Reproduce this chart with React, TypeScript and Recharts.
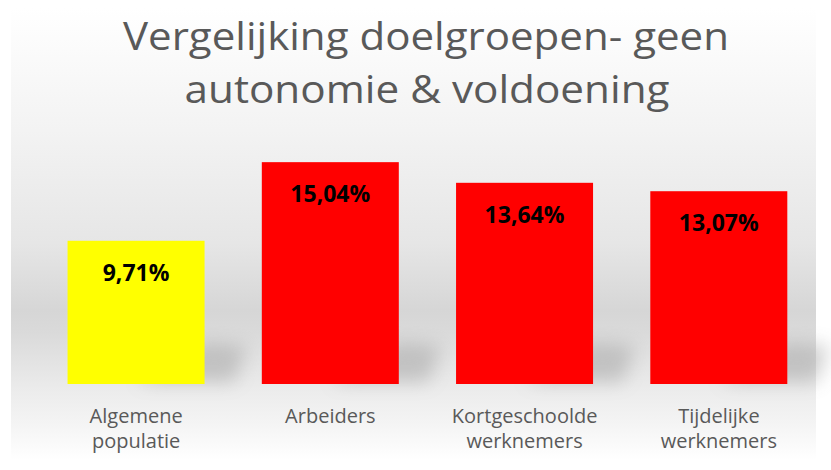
import React from 'react';
import { BarChart, Bar, XAxis, YAxis, Cell, LabelList } from 'recharts';

const categories = ['Algemene populatie', 'Arbeiders', 'Kortgeschoolde werknemers', 'Tijdelijke werknemers'];
const values = [9.71, 15.04, 13.64, 13.07];
const colors = ['#ffff00', '#ff0000', '#ff0000', '#ff0000'];
const titleLines = ['Vergelijking doelgroepen- geen', 'autonomie & voldoening'];

const data = categories.map((name, i) => ({ name, value: values[i] }));

const FONT = '"Open Sans", "DejaVu Sans", sans-serif';

// bar with a soft floor shadow to the right
function ShadowBar(props: any) {
  const { x, y, width, height, fill } = props;
  const bottom = y + height;
  const pts = [
    [x + width * 0.5, bottom - 2],
    [x + width, bottom - 42],
    [x + width + 42, bottom - 38],
    [x + width + 30, bottom - 2],
  ]
    .map((p) => p.join(','))
    .join(' ');
  return (
    <g>
      <polygon points={pts} fill="#9a9a9a" opacity={0.45} filter="url(#blurShadow)" />
      <rect x={x} y={y} width={width} height={height} fill={fill} />
    </g>
  );
}

function ValueLabel(props: any) {
  const { x, y, width, value } = props;
  const txt = Number(value).toFixed(2).replace('.', ',') + '%';
  return (
    <text
      x={x + width / 2}
      y={y + 31}
      textAnchor="middle"
      dominantBaseline="central"
      fontFamily={FONT}
      fontWeight="bold"
      fontSize={23}
      fill="#000"
    >
      {txt}
    </text>
  );
}

function CategoryTick(props: any) {
  const { x, payload } = props;
  const words = String(payload.value).split(' ');
  return (
    <g>
      {words.map((w, i) => (
        <text
          key={i}
          x={x}
          y={423 + i * 25}
          textAnchor="middle"
          fontFamily={FONT}
          fontSize={20}
          fill="#595959"
        >
          {w}
        </text>
      ))}
    </g>
  );
}

export default function App() {
  return (
    <div style={{ position: 'absolute', left: 0, top: 0, width: 831, height: 470, background: '#fff' }}>
      <div
        style={{
          position: 'absolute',
          left: 11,
          top: 8,
          width: 805,
          height: 452,
          background:
            'linear-gradient(to bottom, #ffffff 0%, #f3f3f3 27%, #e6e6e6 52%, #d6d6d6 67%, #dadada 72%, #ebebeb 84%, #f4f4f4 92%, #ffffff 100%)',
        }}
      />
      <svg width={831} height={120} style={{ position: 'absolute', left: 0, top: 0 }}>
        <text x={426} y={50} textAnchor="middle" fontFamily={FONT} fontSize={39} fill="#595959" textLength={606} lengthAdjust="spacingAndGlyphs">
          {titleLines[0]}
        </text>
        <text x={427} y={103} textAnchor="middle" fontFamily={FONT} fontSize={39} fill="#595959" textLength={485} lengthAdjust="spacingAndGlyphs">
          {titleLines[1]}
        </text>
      </svg>
      <div style={{ position: 'absolute', left: 0, top: 0 }}>
        <BarChart
          width={831}
          height={470}
          data={data}
          margin={{ top: 148, right: 15, bottom: 16, left: 39 }}
          barCategoryGap="14.7%"
        >
          <defs>
            <filter id="blurShadow" x="-50%" y="-50%" width="200%" height="200%">
              <feGaussianBlur stdDeviation="9" />
            </filter>
          </defs>
          <XAxis dataKey="name" axisLine={false} tickLine={false} height={70} interval={0} tick={<CategoryTick />} />
          <YAxis hide domain={[0, 16]} />
          <Bar dataKey="value" isAnimationActive={false} shape={<ShadowBar />}>
            {data.map((d, i) => (
              <Cell key={d.name} fill={colors[i]} />
            ))}
            <LabelList dataKey="value" content={<ValueLabel />} />
          </Bar>
        </BarChart>
      </div>
    </div>
  );
}
